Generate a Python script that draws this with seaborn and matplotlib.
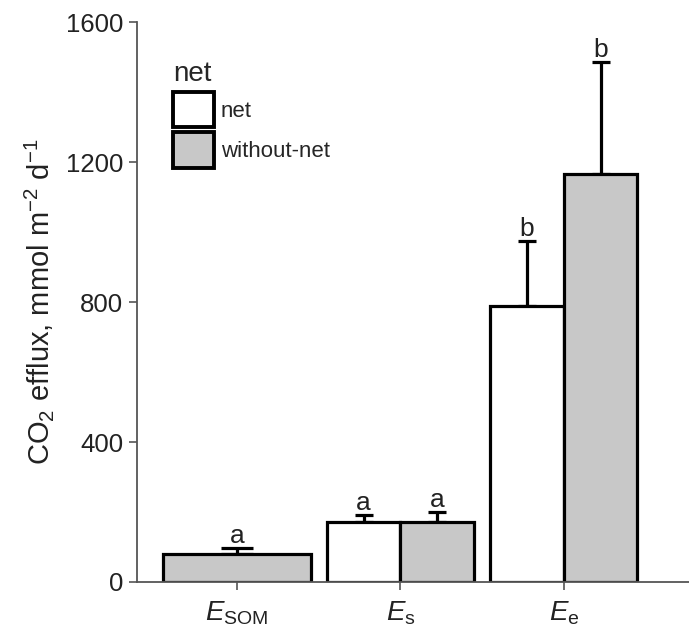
import matplotlib
matplotlib.use("Agg")
import matplotlib.pyplot as plt
from matplotlib.patches import Patch
import seaborn as sns
import pandas as pd
import numpy as np

# data
categories = ['E_SOM', 'E_s', 'E_e']
tick_labels = [r'$E_{\mathrm{SOM}}$', r'$E_{\mathrm{s}}$', r'$E_{\mathrm{e}}$']
treatments = ['net', 'without-net']

net_mean = [np.nan, 171, 789]
net_err = [np.nan, 20, 185]
net_letter = [None, 'a', 'b']

without_mean = [80, 171, 1166]
without_err = [17, 29, 320]
without_letter = ['a', 'a', 'b']

palette = {'net': 'white', 'without-net': '#c8c8c8'}

sns.set_theme(style='ticks')
plt.rcParams['font.family'] = ['Liberation Sans', 'DejaVu Sans']
plt.rcParams['mathtext.fontset'] = 'custom'
plt.rcParams['mathtext.rm'] = 'Liberation Sans'
plt.rcParams['mathtext.it'] = 'Liberation Sans:italic'

rows = []
for i, cat in enumerate(categories):
    for trt, means, errs, lets in [('net', net_mean, net_err, net_letter),
                                   ('without-net', without_mean, without_err, without_letter)]:
        rows.append({'category': cat, 'treatment': trt, 'mean': means[i],
                     'err': errs[i], 'letter': lets[i]})
df = pd.DataFrame(rows).dropna(subset=['mean'])

# categories with both treatments are dodged, single-treatment ones fill the slot
counts = df.groupby('category')['treatment'].transform('count')
df_pair = df[counts == 2]
df_single = df[counts == 1]

fig = plt.figure(figsize=(6.89, 6.27), dpi=100)
ax = fig.add_axes([0.1988, 0.0718, 0.801, 0.893])

edge_lw = 2.3
sns.barplot(data=df_pair, x='category', y='mean', hue='treatment', order=categories,
            hue_order=treatments, palette=palette, edgecolor='black', linewidth=edge_lw,
            width=0.9, errorbar=None, legend=False, ax=ax, zorder=2)
sns.barplot(data=df_single, x='category', y='mean', order=categories,
            color=palette['without-net'], saturation=1, edgecolor='black',
            linewidth=edge_lw, width=0.9, errorbar=None, ax=ax, zorder=2)

# error bars and letters, placed on the bars seaborn drew
groups = [df_pair[df_pair.treatment == 'net'], df_pair[df_pair.treatment == 'without-net'], df_single]
for container, sub in zip(ax.containers, groups):
    sub = sub.set_index('category').reindex([c for c in categories if c in set(sub.category)])
    for bar, (_, r) in zip(container, sub.iterrows()):
        xc = bar.get_x() + bar.get_width() / 2
        cap = 11.5 if bar.get_width() > 0.6 else 6.2
        ax.errorbar(xc, r['mean'], yerr=[[0], [r['err']]], fmt='none', ecolor='black',
                    elinewidth=edge_lw, capsize=cap, capthick=edge_lw, zorder=1)
        ax.annotate(r['letter'], (xc, r['mean'] + r['err']), xytext=(0, 0),
                    textcoords='offset points', ha='center', va='bottom',
                    fontsize=19, color='#222222')

ax.set_xlim(-0.612, 2.765)
ax.set_ylim(0, 1600)
ax.set_yticks([0, 400, 800, 1200, 1600])
ax.set_xticks(range(len(categories)))
ax.set_xticklabels(tick_labels)
ax.set_xlabel('')
ax.set_ylabel(r'CO$_2$ efflux, mmol m$^{-2}$ d$^{-1}$', fontsize=21, color='#222222',
              labelpad=7)
ax.tick_params(axis='y', labelsize=18.5, colors='#222222', length=5.5, width=1.2, pad=4.5)
ax.tick_params(axis='x', labelsize=20, colors='#222222', length=5.5, width=1.2, pad=7)
for side in ['top', 'right']:
    ax.spines[side].set_visible(False)
for side in ['left', 'bottom']:
    ax.spines[side].set_color('#555555')
    ax.spines[side].set_linewidth(1.3)
ax.tick_params(axis='both', color='#555555')

handles = [Patch(facecolor=palette[t], edgecolor='black', linewidth=2.8, label=t) for t in treatments]
leg = ax.legend(handles=handles, title='net', loc='upper left', bbox_to_anchor=(0.045, 0.95),
                frameon=False, fontsize=16, title_fontsize=20, handlelength=1.85,
                handleheight=2.1, labelspacing=0.2, handletextpad=0.3,
                borderpad=0, alignment='left')

fig.savefig('out.png', dpi=100)
